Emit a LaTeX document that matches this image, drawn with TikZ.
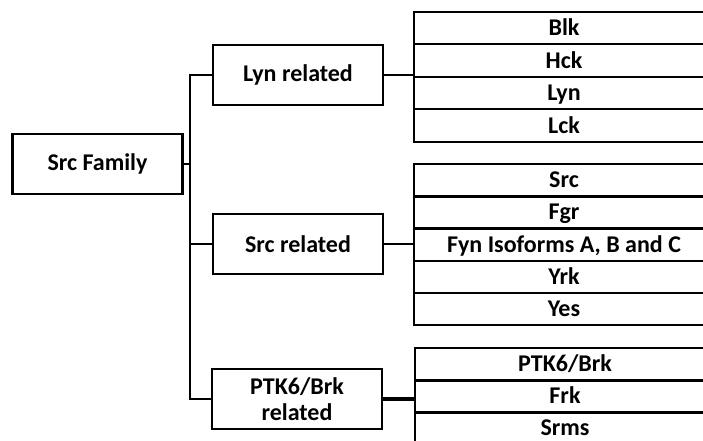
\documentclass[tikz,border=0pt]{standalone}
\usepackage{fontspec}
\setmainfont{Carlito}
\usetikzlibrary{positioning}
\tikzset{
	group/.style={draw, line width=2.4pt, minimum width=170pt, minimum height=60pt, align=center, inner sep=2pt,
		font=\bfseries\fontsize{24}{26}\selectfont},
	member/.style={draw, line width=2pt, minimum width=300pt, minimum height=32.5pt, anchor=north west,
		inner sep=0pt, text height=17pt, text depth=2pt, font=\bfseries\fontsize{24}{26}\selectfont},
	link/.style={line width=2pt},
}

\begin{document}
\begin{tikzpicture}[x=1pt, y=-1pt]
			\clip (0,0) rectangle (703,441);
			\coordinate (trunk) at (190,0);
			\node[group] (fam) at (97.5,164) {Src Family};
			\node[group] (lyn) at (298,75) {Lyn related};
			\node[group] (src) at (298,244) {Src related};
			\node[group] (ptk) at (297,399) {PTK6/Brk\\related};
			% member lists
			\foreach \name [count=\i from 0] in {Blk,Hck,Lyn,Lck} {
					\node[member] (lyn\i) at (413,11+32.5*\i) {\name};
				}
			\foreach \name [count=\i from 0] in {Src,Fgr,{Fyn Isoforms A, B and C},Yrk,Yes} {
					\node[member] (src\i) at (413,163+32.2*\i) {\name};
				}
			\foreach \name [count=\i from 0] in {PTK6/Brk,Frk,Srms} {
					\node[member] (ptk\i) at (414,347+32*\i) {\name};
				}
			% connectors
			\draw[link] (fam.east) -- (fam.east -| trunk);
			\draw[link] (lyn.west) -- (lyn.west -| trunk) -- (ptk.west -| trunk) -- (ptk.west);
			\draw[link] (src.west) -- (src.west -| trunk);
			\draw[link] (lyn.east) -- (lyn.east -| lyn0.west);
			\draw[link] (src.east) -- (src.east -| src0.west);
			\draw[line width=3.5pt] (ptk.east) -- (ptk.east -| ptk0.west);
		\end{tikzpicture}
\end{document}
